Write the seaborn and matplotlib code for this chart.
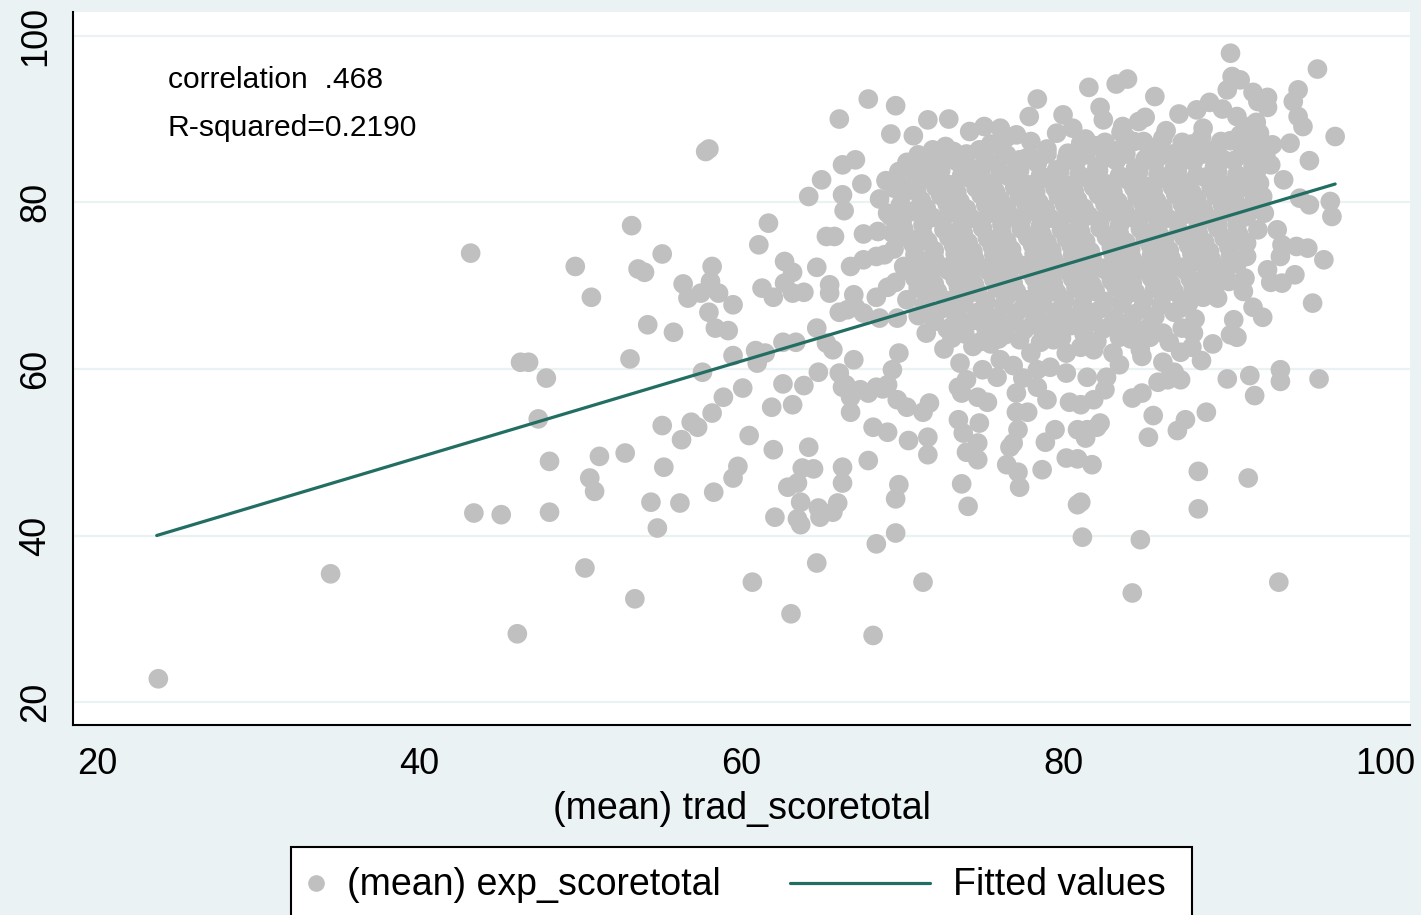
import matplotlib
matplotlib.use("Agg")
import matplotlib.pyplot as plt
from matplotlib.patches import Rectangle
from matplotlib.lines import Line2D
import seaborn as sns
import pandas as pd

# ---------------- data ----------------
pts_left = [
    (23.8, 22.8), (34.5, 35.4), (43.2, 73.9), (43.4, 42.7), (45.1, 42.5), (46.1, 28.2),
    (46.3, 60.8), (46.8, 60.8), (47.4, 54.0), (47.9, 58.9), (48.1, 48.9), (48.1, 42.8),
    (49.7, 72.3), (50.3, 36.1), (50.6, 46.9), (50.7, 68.6), (50.9, 45.3), (51.2, 49.5),
    (52.8, 49.9), (53.1, 61.2), (53.2, 77.2), (53.4, 32.4), (53.6, 72.0), (54.0, 71.6),
    (54.2, 65.3), (54.4, 44.0), (54.8, 40.9), (55.1, 73.8), (55.1, 53.2), (55.2, 48.2),
    (55.8, 64.4), (56.2, 43.9), (56.3, 51.5), (56.4, 70.2), (56.7, 68.5), (56.9, 53.6),
    (57.3, 53.0), (57.5, 69.1), (57.6, 59.6), (57.8, 86.1), (58.0, 86.4), (58.0, 66.8),
    (58.1, 70.5), (58.2, 72.3), (58.2, 54.7), (58.3, 45.2), (58.4, 64.9), (58.6, 69.1),
    (58.9, 56.6), (59.2, 64.6), (59.5, 67.7), (59.5, 61.6), (59.5, 46.9), (59.8, 48.3),
]
pts_mid = [
    (60.1, 57.7), (60.5, 52.0), (60.7, 34.4), (60.9, 62.2), (61.0, 60.7), (61.1, 74.9),
    (61.3, 69.7), (61.5, 61.9), (61.7, 77.5), (62.0, 68.6), (61.9, 55.4), (62.0, 50.3),
    (62.1, 42.2), (62.6, 63.2), (62.6, 58.2), (62.7, 72.9), (62.7, 70.3), (62.9, 45.8),
    (63.1, 30.6), (63.2, 71.6), (63.2, 69.1), (63.2, 55.7), (63.4, 63.2), (63.5, 46.3),
    (63.5, 42.0), (63.7, 44.0), (63.7, 41.3), (63.8, 48.1), (63.9, 69.2), (63.9, 58.0),
    (64.2, 80.7), (64.2, 50.6), (64.5, 48.0), (64.7, 72.2), (64.7, 64.9), (64.7, 36.7),
    (64.8, 59.6), (64.8, 43.3), (64.9, 42.2), (65.0, 82.7), (65.3, 75.9), (65.3, 63.1),
    (65.5, 70.1), (65.5, 69.1), (65.7, 62.3), (65.7, 42.8), (65.8, 75.9), (66.0, 43.9),
    (66.1, 90.0), (66.1, 66.8), (66.1, 59.5), (66.3, 84.5), (66.3, 80.9), (66.3, 57.8),
    (66.3, 48.2), (66.3, 46.3), (66.4, 79.0), (66.5, 58.1), (66.6, 67.1), (66.8, 72.3),
    (66.8, 56.6), (66.8, 54.8), (67.0, 68.9), (67.0, 61.1), (67.1, 85.1), (67.1, 67.4),
    (67.4, 57.5), (67.5, 82.2), (67.6, 73.1), (67.6, 66.7), (67.9, 92.4), (67.9, 57.1),
    (67.9, 49.0), (68.2, 53.0), (68.2, 28.0), (68.4, 73.5), (68.4, 68.6), (68.4, 57.8),
    (68.4, 39.0), (68.5, 76.5), (68.6, 66.1), (68.8, 57.6), (68.9, 73.7), (69.1, 78.7),
    (69.1, 69.8), (69.1, 58.1), (69.1, 52.4), (69.3, 88.2), (69.4, 76.3), (69.4, 59.9),
    (69.6, 91.6), (69.6, 44.4), (69.6, 40.3), (69.7, 82.3), (69.7, 66.1), (69.7, 56.3),
    (69.8, 61.9), (69.8, 46.1),
]
pts_right_edge = [
    (70.3, 55.4), (70.4, 51.4), (70.7, 88.0), (70.7, 83.9), (71.1, 85.1), (71.3, 54.8),
    (71.3, 34.4), (71.6, 89.9), (71.6, 51.8), (71.6, 49.7), (71.7, 55.9), (71.9, 86.3),
    (72.7, 86.7), (72.9, 90.0), (73.5, 57.8), (73.5, 53.9), (73.7, 57.1), (73.7, 46.2),
    (73.8, 85.3), (73.8, 52.3), (74.0, 50.0), (74.1, 43.5), (74.2, 88.5), (74.7, 56.6),
    (74.7, 51.1), (74.7, 49.1), (74.8, 86.3), (74.8, 53.5), (75.1, 89.1), (75.3, 56.0),
    (76.1, 88.9), (76.1, 86.7), (76.5, 48.5), (76.7, 50.6), (76.9, 51.1), (77.1, 88.1),
    (77.1, 57.1), (77.1, 54.8), (77.2, 52.7), (77.2, 47.6), (77.3, 85.1), (77.3, 45.8),
    (77.8, 54.8), (77.9, 90.3), (78.1, 85.3), (78.4, 92.4), (78.4, 57.8), (78.7, 47.9),
    (78.9, 51.2), (79.0, 56.3), (79.5, 52.7), (79.6, 88.3),
    (80.2, 49.3), (80.4, 56.0), (80.6, 88.9), (80.9, 52.7), (80.9, 49.2), (80.9, 43.7),
    (81.1, 55.7), (81.1, 44.0), (81.1, 87.1), (81.2, 39.8), (81.4, 51.7), (81.5, 52.7),
    (81.6, 93.8), (81.8, 48.5), (81.9, 56.3), (82.1, 53.0), (82.3, 53.5), (82.5, 89.9),
    (82.6, 57.5), (83.3, 94.2), (83.7, 89.1), (84.0, 94.8), (84.3, 56.5), (84.3, 33.1),
    (84.7, 89.7), (84.8, 39.5), (84.9, 57.1), (85.3, 51.8), (85.6, 54.4), (85.7, 92.7),
    (85.9, 58.4), (86.5, 58.7), (87.1, 52.6), (87.3, 58.7), (87.6, 53.9), (87.8, 67.9),
    (88.0, 62.6), (88.1, 64.3), (88.1, 69.8), (88.3, 91.1), (88.4, 47.7), (88.4, 43.2),
    (88.9, 54.8), (89.1, 92.0), (89.6, 68.5), (90.2, 93.5), (90.2, 58.8), (90.4, 97.9),
    (90.4, 64.1), (90.5, 95.1), (90.6, 65.9), (90.8, 90.3), (90.8, 63.8), (91.0, 94.7),
    (91.2, 69.3), (91.3, 70.9), (91.4, 75.1), (91.4, 73.5), (91.5, 46.9), (91.6, 89.1),
    (91.6, 59.2), (91.8, 93.2), (91.8, 67.4), (91.9, 56.8), (92.1, 92.1), (92.2, 88.3),
    (92.2, 82.3), (92.4, 80.7), (92.4, 66.2), (92.7, 92.6), (92.7, 91.4), (92.7, 71.9),
    (92.9, 70.4), (93.0, 86.9), (93.3, 76.7), (93.4, 34.4), (93.5, 73.5), (93.5, 59.9),
    (93.5, 58.5), (93.6, 74.9), (93.6, 70.3), (93.7, 82.7), (94.1, 87.1), (94.3, 92.1),
    (94.4, 71.3), (94.5, 74.7), (94.6, 93.5), (94.6, 90.3), (94.7, 80.5), (94.9, 89.1),
    (95.2, 74.5), (95.3, 85.0), (95.3, 79.7), (95.5, 67.9), (95.8, 96.0), (95.9, 58.8),
    (96.2, 73.1), (96.6, 80.1), (96.7, 78.3), (96.9, 87.9),
]
pts_core = [
    (80.0, 90.5), (82.3, 91.4), (83.6, 88.4), (85.1, 90.2), (86.4, 88.6), (87.2, 90.6),
    (88.7, 88.9), (89.9, 91.2), (91.0, 88.1), (92.0, 89.6),
    (73.2, 86.1), (75.5, 87.0), (79.0, 86.4), (80.3, 85.9), (82.0, 86.8), (83.2, 86.2),
    (84.4, 87.3), (85.6, 86.5), (86.8, 85.8), (88.0, 87.0), (89.3, 86.2), (90.4, 87.4),
    (91.6, 86.3), (92.6, 85.5),
    (70.3, 84.8), (71.9, 84.1), (73.4, 84.9), (74.6, 84.0), (75.9, 84.6), (77.0, 83.8),
    (78.4, 84.7), (79.6, 83.9), (80.8, 84.8), (82.1, 84.2), (83.3, 85.0), (84.5, 84.1),
    (85.7, 84.8), (86.9, 84.0), (88.1, 84.9), (89.4, 84.2), (90.6, 85.0), (91.8, 84.3),
    (92.9, 84.5),
    (69.0, 82.6), (70.5, 81.9), (71.7, 82.8), (73.0, 82.1), (74.2, 82.9), (75.5, 82.2),
    (76.7, 83.0), (77.9, 82.1), (79.1, 82.8), (80.3, 82.0), (81.5, 82.9), (82.7, 82.2),
    (84.0, 82.7), (85.2, 81.9), (86.4, 82.8), (87.6, 82.3), (88.8, 83.0), (90.0, 82.1),
    (91.2, 82.8),
    (68.6, 80.4), (70.0, 80.9), (71.2, 80.2), (72.4, 80.8), (73.6, 80.1), (74.9, 80.9),
    (76.1, 80.3), (77.3, 80.7), (78.5, 80.0), (79.7, 80.8), (80.9, 80.3), (82.2, 80.9),
    (83.4, 80.1), (84.6, 80.7), (85.8, 80.2), (87.0, 80.9), (88.3, 80.4), (89.5, 80.8),
    (90.7, 80.1), (91.9, 80.6),
    (69.3, 78.3), (70.6, 78.9), (71.9, 78.2), (73.1, 78.8), (74.3, 78.1), (75.5, 78.7),
    (76.8, 78.3), (78.0, 78.9), (79.2, 78.1), (80.4, 78.7), (81.6, 78.4), (82.9, 78.9),
    (84.1, 78.2), (85.3, 78.8), (86.5, 78.1), (87.7, 78.6), (89.0, 78.2), (90.2, 78.9),
    (91.4, 78.3), (92.5, 78.7),
    (67.6, 76.2), (70.1, 76.8), (71.3, 76.1), (72.6, 76.7), (73.8, 76.3), (75.0, 76.9),
    (76.2, 76.2), (77.4, 76.8), (78.7, 76.1), (79.9, 76.7), (81.1, 76.4), (82.3, 76.9),
    (83.5, 76.2), (84.8, 76.8), (86.0, 76.1), (87.2, 76.6), (88.4, 76.3), (89.6, 76.9),
    (90.9, 76.2), (92.1, 76.7),
    (69.5, 74.4), (70.7, 74.9), (72.0, 74.2), (73.2, 74.8), (74.4, 74.1), (75.6, 74.7),
    (76.8, 74.3), (78.1, 74.9), (79.3, 74.2), (80.5, 74.8), (81.7, 74.1), (83.0, 74.6),
    (84.2, 74.3), (85.4, 74.9), (86.6, 74.2), (87.8, 74.8), (89.1, 74.1), (90.3, 74.6),
    (70.1, 72.3), (71.4, 72.9), (72.6, 72.2), (73.8, 72.8), (75.1, 72.1), (76.3, 72.7),
    (77.5, 72.4), (78.7, 72.9), (79.9, 72.2), (81.2, 72.8), (82.4, 72.1), (83.6, 72.6),
    (84.8, 72.3), (86.0, 72.9), (87.3, 72.2), (88.5, 72.8), (89.7, 72.1), (90.8, 72.6),
    (69.6, 70.4), (70.8, 70.9), (72.0, 70.2), (73.3, 70.8), (74.5, 70.1), (75.7, 70.7),
    (76.9, 70.3), (78.2, 70.9), (79.4, 70.2), (80.6, 70.8), (81.8, 70.1), (83.0, 70.6),
    (84.3, 70.3), (85.5, 70.9), (86.7, 70.2), (87.9, 70.8), (89.2, 70.1), (90.3, 70.5),
    (70.3, 68.3), (71.6, 68.9), (72.8, 68.2), (74.0, 68.8), (75.2, 68.1), (76.5, 68.7),
    (77.7, 68.3), (78.9, 68.9), (80.1, 68.2), (81.3, 68.8), (82.6, 68.1), (83.8, 68.6),
    (85.0, 68.3), (86.2, 68.9), (87.4, 68.2), (88.7, 68.6),
    (71.0, 66.4), (72.2, 66.9), (73.4, 66.2), (74.7, 66.8), (75.9, 66.1), (77.1, 66.7),
    (78.3, 66.3), (79.6, 66.9), (80.8, 66.2), (82.0, 66.8), (83.2, 66.1), (84.4, 66.6),
    (85.7, 66.3), (86.9, 66.8), (88.2, 66.0),
    (71.5, 64.3), (72.8, 64.8), (73.9, 64.2), (75.2, 64.9), (76.4, 64.1), (77.6, 64.7),
    (78.8, 64.3), (80.0, 64.9), (81.3, 64.2), (82.5, 64.8), (83.7, 64.1), (84.9, 64.6),
    (86.2, 64.3), (87.4, 64.9),
    (74.4, 62.7), (75.5, 63.0), (76.1, 61.1), (77.3, 63.5), (78.0, 61.9), (79.4, 63.5),
    (80.2, 61.9), (81.1, 62.6), (81.9, 62.3), (83.1, 61.9), (83.5, 63.8), (84.8, 62.3),
    (73.6, 60.7), (74.0, 58.7), (75.0, 59.9), (75.9, 59.0), (78.4, 59.9), (79.2, 60.2),
    (80.2, 59.5), (81.5, 59.0), (82.7, 59.0), (83.5, 60.5), (84.9, 61.5), (86.2, 60.8),
    (87.3, 62.0), (88.6, 61.0), (86.9, 59.6), (85.4, 63.8), (89.3, 63.0), (72.6, 62.4),
    (76.9, 60.4), (77.5, 58.9),
]
pts_core_fill = [
    (76.5, 87.8), (78.0, 87.3), (81.4, 87.6), (82.6, 87.2), (83.9, 87.8), (85.0, 87.3),
    (86.2, 87.7), (87.4, 87.2), (88.6, 87.8), (89.8, 87.3), (91.0, 87.6), (92.1, 87.2),
    (71.0, 85.7), (72.5, 85.3), (74.0, 85.8), (75.2, 85.2), (76.5, 85.7), (77.7, 85.3),
    (79.0, 85.8), (80.2, 85.2), (81.4, 85.7), (82.6, 85.3), (83.9, 85.8), (85.1, 85.2),
    (86.3, 85.7), (87.5, 85.3), (88.7, 85.8), (89.9, 85.2), (91.1, 85.7), (92.3, 85.3),
    (69.8, 83.7), (71.2, 83.3), (72.4, 83.8), (73.7, 83.2), (74.9, 83.7), (76.1, 83.3),
    (77.3, 83.8), (78.6, 83.2), (79.8, 83.7), (81.0, 83.3), (82.2, 83.8), (83.5, 83.2),
    (84.7, 83.7), (85.9, 83.3), (87.1, 83.8), (88.3, 83.2), (89.6, 83.7), (90.8, 83.3),
    (92.0, 83.6),
    (69.5, 81.7), (70.9, 81.3), (72.1, 81.8), (73.4, 81.2), (74.6, 81.7), (75.8, 81.3),
    (77.0, 81.8), (78.3, 81.2), (79.5, 81.7), (80.7, 81.3), (81.9, 81.8), (83.1, 81.2),
    (84.4, 81.7), (85.6, 81.3), (86.8, 81.8), (88.0, 81.2), (89.2, 81.7), (90.5, 81.3),
    (91.6, 81.6),
    (69.9, 79.7), (71.5, 79.3), (72.8, 79.8), (74.0, 79.2), (75.2, 79.7), (76.5, 79.3),
    (77.7, 79.8), (78.9, 79.2), (80.1, 79.7), (81.3, 79.3), (82.6, 79.8), (83.8, 79.2),
    (85.0, 79.7), (86.2, 79.3), (87.4, 79.8), (88.7, 79.2), (89.9, 79.7), (91.1, 79.3),
    (92.2, 79.6),
    (70.0, 77.7), (71.3, 77.3), (72.5, 77.8), (73.7, 77.2), (74.9, 77.7), (76.2, 77.3),
    (77.4, 77.8), (78.6, 77.2), (79.8, 77.7), (81.0, 77.3), (82.3, 77.8), (83.5, 77.2),
    (84.7, 77.7), (85.9, 77.3), (87.1, 77.8), (88.4, 77.2), (89.6, 77.7), (90.8, 77.3),
    (70.4, 75.7), (71.6, 75.3), (72.9, 75.8), (74.1, 75.2), (75.3, 75.7), (76.5, 75.3),
    (77.8, 75.8), (79.0, 75.2), (80.2, 75.7), (81.4, 75.3), (82.7, 75.8), (83.9, 75.2),
    (85.1, 75.7), (86.3, 75.3), (87.5, 75.8), (88.8, 75.2), (90.0, 75.7), (91.2, 75.3),
    (70.8, 73.7), (72.0, 73.3), (73.3, 73.8), (74.5, 73.2), (75.7, 73.7), (76.9, 73.3),
    (78.2, 73.8), (79.4, 73.2), (80.6, 73.7), (81.8, 73.3), (83.1, 73.8), (84.3, 73.2),
    (85.5, 73.7), (86.7, 73.3), (88.0, 73.8), (89.2, 73.2), (90.4, 73.6),
    (70.5, 71.7), (71.7, 71.3), (72.9, 71.8), (74.2, 71.2), (75.4, 71.7), (76.6, 71.3),
    (77.8, 71.8), (79.1, 71.2), (80.3, 71.7), (81.5, 71.3), (82.7, 71.8), (84.0, 71.2),
    (85.2, 71.7), (86.4, 71.3), (87.6, 71.8), (88.9, 71.2), (90.0, 71.6),
    (71.0, 69.7), (72.2, 69.3), (73.5, 69.8), (74.7, 69.2), (75.9, 69.7), (77.1, 69.3),
    (78.4, 69.8), (79.6, 69.2), (80.8, 69.7), (82.0, 69.3), (83.3, 69.8), (84.5, 69.2),
    (85.7, 69.7), (86.9, 69.3), (88.1, 69.8), (89.4, 69.2),
    (71.4, 67.7), (72.6, 67.3), (73.8, 67.8), (75.1, 67.2), (76.3, 67.7), (77.5, 67.3),
    (78.7, 67.8), (80.0, 67.2), (81.2, 67.7), (82.4, 67.3), (83.6, 67.8), (84.9, 67.2),
    (86.1, 67.7), (87.3, 67.3),
    (72.0, 65.7), (73.2, 65.3), (74.4, 65.8), (75.6, 65.2), (76.9, 65.7), (78.1, 65.3),
    (79.3, 65.8), (80.5, 65.2), (81.8, 65.7), (83.0, 65.3), (84.2, 65.8), (85.4, 65.2),
    (73.1, 63.7), (74.9, 63.3), (76.0, 63.6), (78.6, 63.2), (79.9, 63.7), (82.1, 63.3),
    (84.2, 63.6), (86.6, 63.2),
]

fit_x = [23.7, 96.9]          # Fitted values line (ends at data extremes)
fit_y = [40.0, 82.2]

x_ticks = [20, 40, 60, 80, 100]
y_ticks = [20, 40, 60, 80, 100]
x_title = "(mean) trad_scoretotal"
series_label = "(mean) exp_scoretotal"
fit_label = "Fitted values"
note_lines = ["correlation  .468", "R-squared=0.2190"]

# ---------------- styling ----------------
BG = "#EAF2F3"
DOT = "#C0C0C0"
LINE = "#236E63"

sns.set_theme(style="white")
plt.rcParams["font.family"] = ["Liberation Sans", "DejaVu Sans"]

all_pts = pts_left + pts_mid + pts_right_edge + pts_core + pts_core_fill
df = pd.DataFrame(all_pts, columns=["trad", "exp"])
fit_df = pd.DataFrame({"x": fit_x, "y": fit_y})

W, H = 1421, 915
fig = plt.figure(figsize=(W / 100, H / 100), dpi=100, facecolor=BG)
ax = fig.add_axes([73 / W, 1 - 725 / H, (1410 - 73) / W, (725 - 12) / H])
ax.set_facecolor("white")

sns.scatterplot(data=df, x="trad", y="exp", ax=ax, color=DOT, s=200,
                edgecolor="none", linewidth=0, alpha=1, legend=False, zorder=3)
sns.lineplot(data=fit_df, x="x", y="y", ax=ax, color=LINE, linewidth=2.3,
             legend=False, zorder=4)

ax.set_xlim(18.5, 101.55)
ax.set_ylim(17.25, 102.85)
ax.set_xticks(x_ticks)
ax.set_yticks(y_ticks)
ax.set_xticklabels([str(t) for t in x_ticks], fontsize=26)
ax.set_yticklabels([str(t) for t in y_ticks], fontsize=26, rotation=90, va="center")
ax.set_xlabel(x_title, fontsize=27, labelpad=6, color="black")
ax.set_ylabel("")

ax.yaxis.grid(True, color=BG, linewidth=1.6, zorder=0)
ax.xaxis.grid(False)
ax.set_axisbelow(True)

for side in ["top", "right"]:
    ax.spines[side].set_visible(False)
for side in ["left", "bottom"]:
    ax.spines[side].set_color("black")
    ax.spines[side].set_linewidth(1.5)
ax.tick_params(axis="both", direction="out", length=11, width=1.3, color="black",
               labelcolor="black")
ax.tick_params(axis="x", pad=5)
ax.tick_params(axis="y", pad=3)

# overlay in pixel coordinates for the annotations and the legend box
ov = fig.add_axes([0, 0, 1, 1], facecolor="none")
ov.set_xlim(0, W)
ov.set_ylim(H, 0)
ov.axis("off")

ov.text(168, 80, note_lines[0], fontsize=21.6, va="center", ha="left", color="black")
ov.text(168, 128, note_lines[1], fontsize=21.6, va="center", ha="left", color="black")

ov.add_patch(Rectangle((291, 847), 1192 - 291, 100, facecolor="white",
                       edgecolor="black", linewidth=1.5, clip_on=False))
ov.add_line(Line2D([316], [883], marker="o", markersize=12, color=DOT,
                   markeredgewidth=0, linestyle="none"))
ov.text(347, 885, series_label, fontsize=27, va="center", ha="left", color="black")
ov.add_line(Line2D([790, 930], [883, 883], color=LINE, linewidth=2.3))
ov.text(953, 885, fit_label, fontsize=27, va="center", ha="left", color="black")

fig.savefig("out.png", dpi=100, facecolor=BG)
